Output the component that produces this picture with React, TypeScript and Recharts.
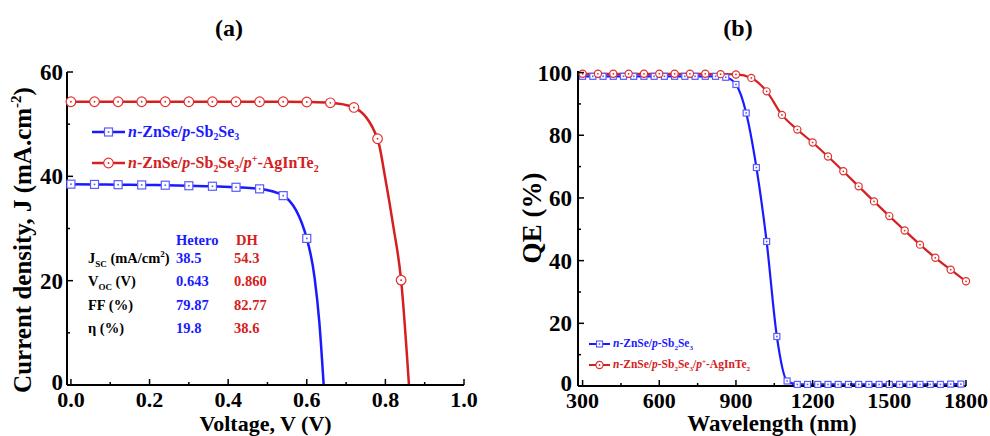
import React from "react";
import { LineChart, Line, XAxis, YAxis, Legend } from "recharts";

const FONT = "'Liberation Serif', 'Times New Roman', serif";
const BLUE = "#1a1aff";
const RED = "#d42020";
const BLUE_MARK = "#5a5aff";
const RED_MARK = "#e03030";

// (a) J-V curves
const HETERO_V = [0, 0.06, 0.12, 0.18, 0.24, 0.3, 0.36, 0.42, 0.48, 0.54, 0.6, 0.62, 0.632, 0.643];
const HETERO_J = [38.5, 38.45, 38.4, 38.35, 38.3, 38.2, 38.1, 37.9, 37.6, 36.3, 28.1, 20.5, 12.0, 0];
const DH_V = [0, 0.06, 0.12, 0.18, 0.24, 0.3, 0.36, 0.42, 0.48, 0.54, 0.6, 0.66, 0.72, 0.78, 0.8, 0.82, 0.84, 0.86];
const DH_J = [54.3, 54.3, 54.3, 54.3, 54.3, 54.3, 54.3, 54.3, 54.3, 54.3, 54.25, 54.1, 53.2, 47.2, 39.5, 30.5, 20.1, 0];
const MARK_STEP_V = 0.06;

const V_TICKS_MAJOR = [0, 0.2, 0.4, 0.6, 0.8, 1.0];
const V_TICKS_MINOR = [0.1, 0.3, 0.5, 0.7, 0.9];
const J_TICKS_MAJOR = [0, 20, 40, 60];
const J_TICKS_MINOR = [10, 30, 50];

const HETERO_PARAMS = ["38.5", "0.643", "79.87", "19.8"];
const DH_PARAMS = ["54.3", "0.860", "82.77", "38.6"];

// (b) quantum efficiency
const HETERO_WL = [300, 340, 380, 420, 460, 500, 540, 580, 620, 660, 700, 740, 780, 820, 860, 900, 940, 980, 1020, 1060, 1100, 1140, 1180, 1220, 1260, 1300, 1340, 1380, 1420, 1460, 1500, 1540, 1580, 1620, 1660, 1700, 1740, 1780];
const HETERO_QE = [98.8, 98.8, 98.8, 98.8, 98.8, 98.8, 98.8, 98.8, 98.8, 98.8, 98.8, 98.8, 98.8, 98.8, 98.5, 96.2, 87.1, 69.7, 46.1, 15.8, 1.6, 0.5, 0.5, 0.5, 0.5, 0.5, 0.5, 0.5, 0.5, 0.5, 0.5, 0.5, 0.5, 0.5, 0.5, 0.5, 0.6, 0.6];
const DH_WL = [300, 360, 420, 480, 540, 600, 660, 720, 780, 840, 900, 960, 1020, 1080, 1140, 1200, 1260, 1320, 1380, 1440, 1500, 1560, 1620, 1680, 1740, 1800];
const DH_QE = [99.6, 99.6, 99.6, 99.6, 99.6, 99.6, 99.6, 99.6, 99.6, 99.5, 99.4, 98.3, 94.0, 86.5, 81.8, 77.7, 73.2, 68.5, 63.7, 58.9, 54.2, 49.6, 45.1, 40.9, 37.1, 33.4];

const WL_TICKS_MAJOR = [300, 600, 900, 1200, 1500, 1800];
const WL_TICKS_MINOR = [450, 750, 1050, 1350, 1650];
const QE_TICKS_MAJOR = [0, 20, 40, 60, 80, 100];
const QE_TICKS_MINOR = [10, 30, 50, 70, 90];

const jvHetero = HETERO_V.map((v, i) => ({ x: v, y: HETERO_J[i] }));
const jvDH = DH_V.map((v, i) => ({ x: v, y: DH_J[i] }));
const qeHetero = HETERO_WL.map((w, i) => ({ x: w, y: HETERO_QE[i] }));
const qeDH = DH_WL.map((w, i) => ({ x: w, y: DH_QE[i] }));

const isIn = (arr: number[], v: number) => arr.some((a) => Math.abs(a - v) < 1e-9);
const isMarked = (v: number) => Math.abs(v / MARK_STEP_V - Math.round(v / MARK_STEP_V)) < 1e-6;

function Square({ cx, cy, size, color }: any) {
  const h = size / 2;
  return (
    <g>
      <rect x={cx - h} y={cy - h} width={size} height={size} fill="#fff" stroke={color} strokeWidth={1.2} />
      <rect x={cx - 0.8} y={cy - 0.8} width={1.6} height={1.6} fill={color} />
    </g>
  );
}

function Circle({ cx, cy, r, color }: any) {
  return (
    <g>
      <circle cx={cx} cy={cy} r={r} fill="#fff" stroke={color} strokeWidth={1.2} />
      <circle cx={cx} cy={cy} r={0.9} fill={color} />
    </g>
  );
}

const bottomTick = (majors: number[], fmt: (v: number) => string, size: number) => (props: any) => {
  const { x, y, payload } = props;
  const major = isIn(majors, payload.value);
  return (
    <g>
      <line x1={x} x2={x} y1={y} y2={y - (major ? 6 : 3)} stroke="#000" strokeWidth={1.5} />
      {major && (
        <text x={x} y={y + 22} textAnchor="middle" fontFamily={FONT} fontWeight="bold" fontSize={size} fill="#000">
          {fmt(payload.value)}
        </text>
      )}
    </g>
  );
};

const leftTick = (majors: number[], gap: number, size: number) => (props: any) => {
  const { x, y, payload } = props;
  const major = isIn(majors, payload.value);
  return (
    <g>
      <line x1={x} x2={x + (major ? 6 : 3)} y1={y} y2={y} stroke="#000" strokeWidth={1.5} />
      {major && (
        <text x={x - gap} y={y + (payload.value === 0 ? 5 : 8)} textAnchor="end" fontFamily={FONT} fontWeight="bold" fontSize={size} fill="#000">
          {payload.value}
        </text>
      )}
    </g>
  );
};

const sub = (t: string) => <span style={{ fontSize: "0.62em", position: "relative", top: "0.38em" }}>{t}</span>;
const sup = (t: string) => <span style={{ fontSize: "0.62em", position: "relative", top: "-0.55em" }}>{t}</span>;

const HETERO_LABEL = (
  <>
    <i>n</i>-ZnSe/<i>p</i>-Sb{sub("2")}Se{sub("3")}
  </>
);
const DH_LABEL = (
  <>
    <i>n</i>-ZnSe/<i>p</i>-Sb{sub("2")}Se{sub("3")}/<i>p</i>
    {sup("+")}-AgInTe{sub("2")}
  </>
);

function legendContent(fontSize: number, rowH: number, symW: number, big: boolean) {
  const rows = [
    { color: BLUE, mark: BLUE_MARK, label: HETERO_LABEL, square: true },
    { color: RED, mark: RED_MARK, label: DH_LABEL, square: false },
  ];
  return () => (
    <div style={{ fontFamily: FONT, fontWeight: "bold", fontSize, lineHeight: 1, whiteSpace: "nowrap" }}>
      {rows.map((r, i) => (
        <div key={i} style={{ height: rowH, display: "flex", alignItems: "center", color: r.color }}>
          <svg width={symW} height={14} style={{ marginRight: 3 }}>
            <line x1={0} x2={symW} y1={7} y2={7} stroke={r.color} strokeWidth={big ? 2.5 : 2} />
            {r.square ? (
              <Square cx={symW / 2} cy={7} size={big ? 8 : 6} color={r.mark} />
            ) : (
              <Circle cx={symW / 2} cy={7} r={big ? 4.8 : 3.6} color={r.mark} />
            )}
          </svg>
          <span>{r.label}</span>
        </div>
      ))}
    </div>
  );
}

const PARAM_ROWS = [
  <>
    J<tspan dy={4} fontSize={9}>SC</tspan>
    <tspan dy={-4}> (mA/cm</tspan>
    <tspan dy={-6} fontSize={9}>2</tspan>
    <tspan dy={6}>)</tspan>
  </>,
  <>
    V<tspan dy={4} fontSize={9}>OC</tspan>
    <tspan dy={-4}> (V)</tspan>
  </>,
  <>FF (%)</>,
  <> η (%)</>,
];
const ROW_Y = [262.5, 286, 309.5, 333];

function ParamTable() {
  const common = { fontFamily: FONT, fontWeight: "bold" as const, fontSize: 14.5 };
  return (
    <svg width={480} height={436} style={{ position: "absolute", left: 0, top: 0, pointerEvents: "none" }}>
      <text x={176} y={245} fill={BLUE} {...common}>Hetero</text>
      <text x={236} y={245} fill={RED} {...common}>DH</text>
      {PARAM_ROWS.map((lab, i) => (
        <g key={i}>
          <text x={88} y={ROW_Y[i]} fill="#000" {...common}>{lab}</text>
          <text x={176} y={ROW_Y[i]} fill={BLUE} {...common}>{HETERO_PARAMS[i]}</text>
          <text x={234} y={ROW_Y[i]} fill={RED} {...common}>{DH_PARAMS[i]}</text>
        </g>
      ))}
    </svg>
  );
}

const jvDot = (color: string) => (p: any) => {
  if (!isMarked(p.payload.x)) return <g key={`d${p.index}`} />;
  return (
    <g key={`d${p.index}`}>
      {color === BLUE_MARK ? (
        <Square cx={p.cx} cy={p.cy} size={8} color={color} />
      ) : (
        <Circle cx={p.cx} cy={p.cy} r={4.8} color={color} />
      )}
    </g>
  );
};

function JVPanel() {
  return (
    <div style={{ position: "absolute", left: 0, top: 0 }}>
      <LineChart width={480} height={436} margin={{ top: 72, right: 16, bottom: 0, left: 0 }}>
        <XAxis
          xAxisId="x"
          dataKey="x"
          type="number"
          domain={[-0.01, 1.0]}
          ticks={[...V_TICKS_MAJOR, ...V_TICKS_MINOR].sort((a, b) => a - b)}
          interval={0}
          height={51}
          tickSize={0}
          tickMargin={0}
          tickLine={false}
          axisLine={{ stroke: "#000", strokeWidth: 2 }}
          tick={bottomTick(V_TICKS_MAJOR, (v) => v.toFixed(1), 22)}
          label={{
            content: (p: any) => (
              <text x={p.viewBox.x + p.viewBox.width / 2} y={p.viewBox.y + 46} textAnchor="middle" fontFamily={FONT} fontWeight="bold" fontSize={22}>
                Voltage, V (V)
              </text>
            ),
          }}
        />
        <XAxis xAxisId="top" orientation="top" type="number" domain={[-0.01, 1.0]} height={0} tick={false} tickLine={false} axisLine={{ stroke: "#000", strokeWidth: 2 }} />
        <YAxis
          yAxisId="y"
          type="number"
          domain={[0, 60]}
          ticks={[...J_TICKS_MAJOR, ...J_TICKS_MINOR].sort((a, b) => a - b)}
          interval={0}
          width={67}
          tickSize={0}
          tickMargin={0}
          tickLine={false}
          axisLine={{ stroke: "#000", strokeWidth: 2 }}
          tick={leftTick(J_TICKS_MAJOR, 4, 23)}
          label={{
            content: () => (
              <text x={31} y={240} transform="rotate(-90 31 240)" textAnchor="middle" fontFamily={FONT} fontWeight="bold" fontSize={25}>
                Current density, J (mA.cm
                <tspan dy={-10} fontSize={15}>-2</tspan>
                <tspan dy={10}>)</tspan>
              </text>
            ),
          }}
        />
        <YAxis yAxisId="right" orientation="right" type="number" domain={[0, 60]} width={0} tick={false} tickLine={false} axisLine={{ stroke: "#000", strokeWidth: 2 }} />
        <Legend
          layout="vertical"
          align="center"
          verticalAlign="middle"
          wrapperStyle={{ left: 92, top: 116 }}
          content={legendContent(16, 31.3, 33, true)}
        />
        <Line
          xAxisId="x"
          yAxisId="y"
          data={jvHetero}
          dataKey="y"
          name="hetero"
          type="monotone"
          stroke={BLUE}
          strokeWidth={2.5}
          dot={jvDot(BLUE_MARK)}
          isAnimationActive={false}
        />
        <Line
          xAxisId="x"
          yAxisId="y"
          data={jvDH}
          dataKey="y"
          name="dh"
          type="monotone"
          stroke={RED}
          strokeWidth={2.5}
          dot={jvDot(RED_MARK)}
          isAnimationActive={false}
        />
      </LineChart>
      <ParamTable />
    </div>
  );
}

function QEPanel() {
  return (
    <div style={{ position: "absolute", left: 500, top: 0 }}>
      <LineChart width={490} height={436} margin={{ top: 71, right: 24, bottom: 0, left: 0 }}>
        <XAxis
          xAxisId="x"
          dataKey="x"
          type="number"
          domain={[282, 1800]}
          ticks={[...WL_TICKS_MAJOR, ...WL_TICKS_MINOR].sort((a, b) => a - b)}
          interval={0}
          height={50}
          tickSize={0}
          tickMargin={0}
          tickLine={false}
          axisLine={{ stroke: "#000", strokeWidth: 2 }}
          tick={bottomTick(WL_TICKS_MAJOR, (v) => String(v), 22)}
          label={{
            content: (p: any) => (
              <text x={p.viewBox.x + p.viewBox.width / 2} y={p.viewBox.y + 45} textAnchor="middle" fontFamily={FONT} fontWeight="bold" fontSize={23}>
                Wavelength (nm)
              </text>
            ),
          }}
        />
        <XAxis xAxisId="top" orientation="top" type="number" domain={[282, 1800]} height={0} tick={false} tickLine={false} axisLine={{ stroke: "#000", strokeWidth: 2 }} />
        <YAxis
          yAxisId="y"
          type="number"
          domain={[0, 100.5]}
          ticks={[...QE_TICKS_MAJOR, ...QE_TICKS_MINOR].sort((a, b) => a - b)}
          interval={0}
          width={78}
          tickSize={0}
          tickMargin={0}
          tickLine={false}
          axisLine={{ stroke: "#000", strokeWidth: 2 }}
          tick={leftTick(QE_TICKS_MAJOR, 6, 23)}
          label={{
            content: () => (
              <text x={41} y={218} transform="rotate(-90 41 218)" textAnchor="middle" fontFamily={FONT} fontWeight="bold" fontSize={27}>
                QE (%)
              </text>
            ),
          }}
        />
        <YAxis yAxisId="right" orientation="right" type="number" domain={[0, 100.5]} width={0} tick={false} tickLine={false} axisLine={{ stroke: "#000", strokeWidth: 2 }} />
        <Legend
          layout="vertical"
          align="center"
          verticalAlign="middle"
          wrapperStyle={{ left: 89, top: 333.5 }}
          content={legendContent(11.5, 21, 21, false)}
        />
        <Line
          xAxisId="x"
          yAxisId="y"
          data={qeHetero}
          dataKey="y"
          name="hetero"
          type="monotone"
          stroke={BLUE}
          strokeWidth={2.2}
          dot={(p: any) => (
            <g key={`b${p.index}`}>
              <Square cx={p.cx} cy={p.cy} size={6} color={BLUE_MARK} />
            </g>
          )}
          isAnimationActive={false}
        />
        <Line
          xAxisId="x"
          yAxisId="y"
          data={qeDH}
          dataKey="y"
          name="dh"
          type="monotone"
          stroke={RED}
          strokeWidth={2.2}
          dot={(p: any) => (
            <g key={`r${p.index}`}>
              <Circle cx={p.cx} cy={p.cy} r={3.6} color={RED_MARK} />
            </g>
          )}
          isAnimationActive={false}
        />
      </LineChart>
    </div>
  );
}

export default function App() {
  return (
    <div style={{ position: "absolute", left: 0, top: 0, width: 990, height: 436, background: "#fff", overflow: "hidden" }}>
      <JVPanel />
      <QEPanel />
      <svg width={990} height={60} style={{ position: "absolute", left: 0, top: 0, pointerEvents: "none" }}>
        <text x={229} y={36} textAnchor="middle" fontFamily={FONT} fontWeight="bold" fontSize={24}>(a)</text>
        <text x={738} y={36} textAnchor="middle" fontFamily={FONT} fontWeight="bold" fontSize={24}>(b)</text>
      </svg>
    </div>
  );
}
